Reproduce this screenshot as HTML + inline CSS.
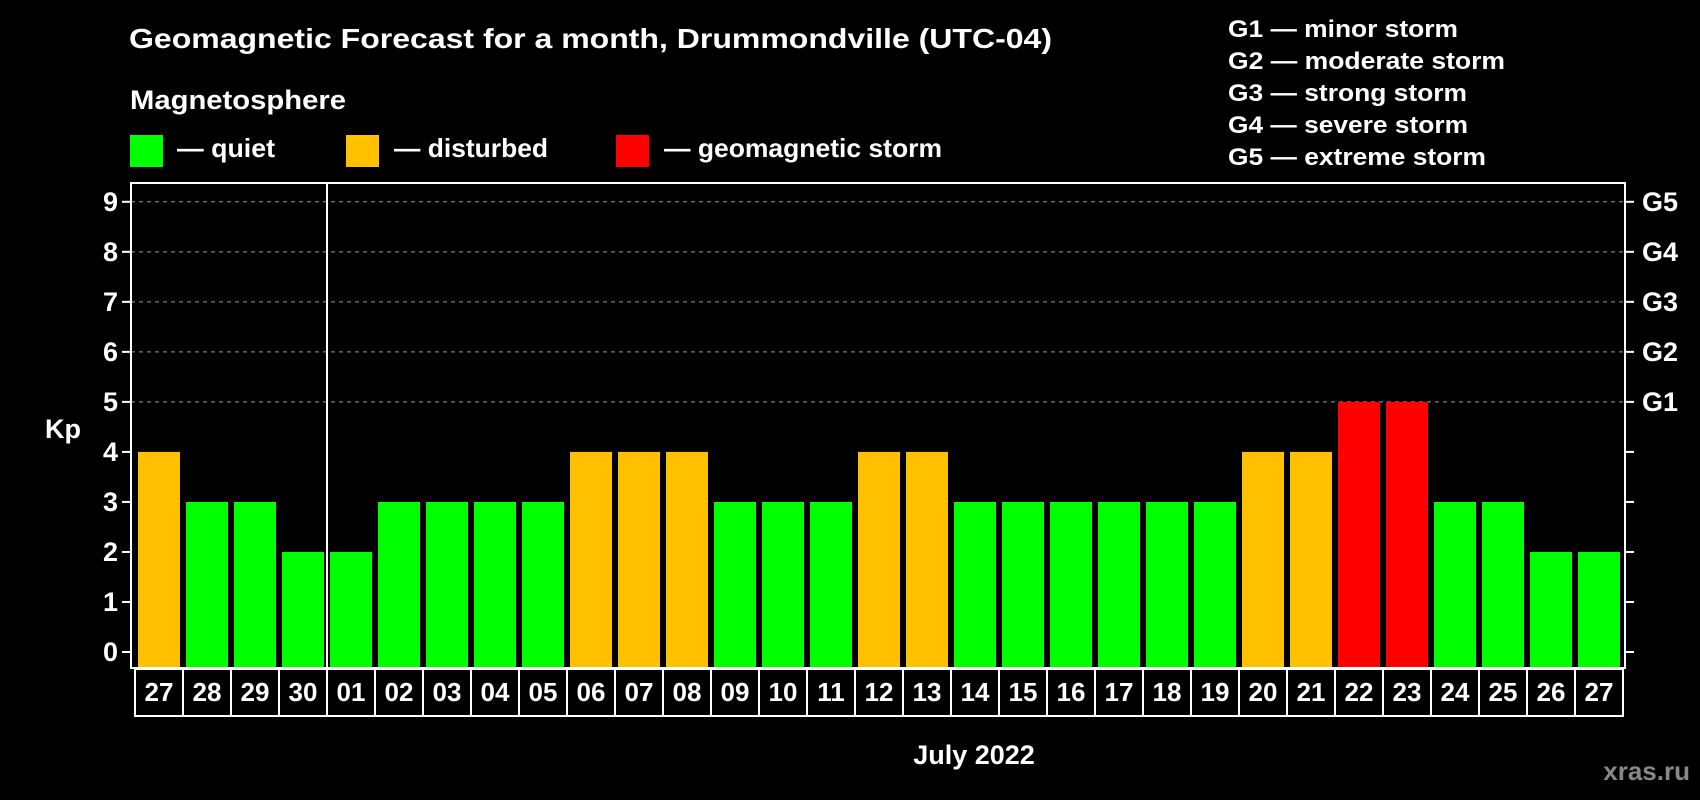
<!DOCTYPE html>
<html><head><meta charset="utf-8"><style>
html,body{margin:0;padding:0;background:#000;}
svg{display:block;font-family:"Liberation Sans",Arial,sans-serif;font-weight:bold;}
</style></head><body>
<svg id="chart" width="1700" height="800" viewBox="0 0 1700 800">
<text x="129" y="48" font-size="28" fill="#fff" textLength="923" lengthAdjust="spacingAndGlyphs">Geomagnetic Forecast for a month, Drummondville (UTC-04)</text>
<text x="130" y="109" font-size="27" fill="#fff" textLength="216" lengthAdjust="spacingAndGlyphs">Magnetosphere</text>
<g>
<rect x="130" y="135" width="33" height="32" fill="#00ff00"/>
<text x="177" y="157" font-size="26" fill="#fff" textLength="98" lengthAdjust="spacingAndGlyphs">— quiet</text></g>
<g>
<rect x="346" y="135" width="33" height="32" fill="#ffc000"/>
<text x="394" y="157" font-size="26" fill="#fff" textLength="154" lengthAdjust="spacingAndGlyphs">— disturbed</text></g>
<g>
<rect x="616" y="135" width="33" height="32" fill="#ff0000"/>
<text x="664" y="157" font-size="26" fill="#fff" textLength="278" lengthAdjust="spacingAndGlyphs">— geomagnetic storm</text></g>
<g font-size="24" fill="#fff">
<text x="1228" y="37" textLength="230" lengthAdjust="spacingAndGlyphs">G1 — minor storm</text>
<text x="1228" y="69" textLength="277" lengthAdjust="spacingAndGlyphs">G2 — moderate storm</text>
<text x="1228" y="101" textLength="239" lengthAdjust="spacingAndGlyphs">G3 — strong storm</text>
<text x="1228" y="133" textLength="240" lengthAdjust="spacingAndGlyphs">G4 — severe storm</text>
<text x="1228" y="165" textLength="258" lengthAdjust="spacingAndGlyphs">G5 — extreme storm</text>
</g>
<text x="63" y="438" font-size="27" fill="#fff" text-anchor="middle">Kp</text>
<text x="974" y="764" font-size="27" fill="#fff" text-anchor="middle">July 2022</text>
<text x="1690" y="780" font-size="26" fill="#888" text-anchor="end">xras.ru</text>
<g id="grid"></g><g id="bars"></g><g id="axes"></g>
</svg>
<script>
const days = ["27","28","29","30","01","02","03","04","05","06","07","08","09","10","11","12","13","14","15","16","17","18","19","20","21","22","23","24","25","26","27"];
const kp = [4,3,3,2,2,3,3,3,3,4,4,4,3,3,3,4,4,3,3,3,3,3,3,4,4,5,5,3,3,2,2];
const yTicks = [0,1,2,3,4,5,6,7,8,9];
const gLabels = ["G1","G2","G3","G4","G5"];
const NS="http://www.w3.org/2000/svg";
const L=131,R=1625,T=183,B=668,slotX0=135,slotW=48;
function y(v){return 652-v*(652-201.8)/9;}
function x(i){return slotX0+i*slotW;}
function color(v){return v>=5?"#ff0000":(v>=4?"#ffc000":"#00ff00");}
function mk(tag,attrs,parent){const e=document.createElementNS(NS,tag);for(const k in attrs)e.setAttribute(k,attrs[k]);parent.appendChild(e);return e;}
const grid=document.getElementById('grid'),bars=document.getElementById('bars'),axes=document.getElementById('axes');
yTicks.forEach(v=>{
  if(v>=5){const l=mk('line',{x1:L,x2:R,y1:y(v),y2:y(v),stroke:'#999','stroke-width':1,'stroke-dasharray':'4,4'},grid);
    
    }
  const t=mk('line',{x1:122,x2:L,y1:y(v),y2:y(v),stroke:'#fff','stroke-width':2},axes);
  
  
  const t2=mk('line',{x1:R,x2:1634,y1:y(v),y2:y(v),stroke:'#fff','stroke-width':2},axes);
  
  
  const lb=mk('text',{x:118,y:y(v)+9,'font-size':27,fill:'#fff','text-anchor':'end'},axes);
  lb.textContent=v;
  
  
});
gLabels.forEach((g,i)=>{
  const lb=mk('text',{x:1642,y:y(5+i)+9,'font-size':27,fill:'#fff'},axes);
  lb.textContent=g;
  
  
});
kp.forEach((v,i)=>{
  const b=mk('rect',{x:x(i)+3,y:y(v),width:42,height:B-y(v),fill:color(v)},bars);
  
  
});
days.forEach((d,i)=>{
  const c=mk('rect',{x:x(i),y:669,width:slotW,height:47,fill:'none',stroke:'#fff','stroke-width':2},axes);
  
  
  const t=mk('text',{x:x(i)+slotW/2,y:701,'font-size':26,fill:'#fff','text-anchor':'middle'},axes);
  t.textContent=d;
  
  
});
const f=mk('rect',{x:L,y:T,width:R-L,height:B-T,fill:'none',stroke:'#fff','stroke-width':2},axes);


const sep=mk('line',{x1:x(4),x2:x(4),y1:T,y2:B,stroke:'#fff','stroke-width':2},axes);


</script>
</body></html>
